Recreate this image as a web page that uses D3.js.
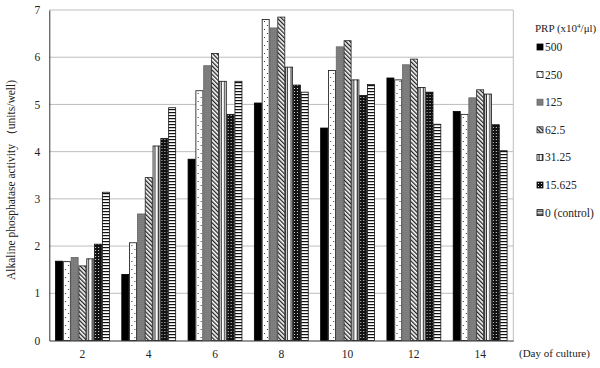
<!DOCTYPE html>
<html><head><meta charset="utf-8">
<script src="https://cdn.jsdelivr.net/npm/d3@7"></script>
<style>body{margin:0;background:#fff}svg{display:block}text{font-family:"Liberation Serif","Times New Roman",serif}</style>
</head><body><div id="chart"></div>
<script>
const days = ["2","4","6","8","10","12","14"];
const seriesNames = ["500","250","125","62.5","31.25","15.625","0 (control)"];
const s500   = [1.68,1.40,3.84,5.03,4.50,5.56,4.85];
const s250   = [1.67,2.07,5.29,6.80,5.72,5.52,4.79];
const s125   = [1.76,2.68,5.82,6.62,6.22,5.84,5.14];
const s62_5  = [1.58,3.45,6.08,6.85,6.35,5.96,5.31];
const s31_25 = [1.73,4.12,5.49,5.79,5.52,5.36,5.22];
const s15_625= [2.04,4.28,4.79,5.41,5.19,5.26,4.57];
const s0     = [3.14,4.93,5.49,5.26,5.42,4.58,4.02];
const yTicks = [0,1,2,3,4,5,6,7];
const seriesValues = [s500,s250,s125,s62_5,s31_25,s15_625,s0];

const W=600,H=368;
const L=49.3,R=513.3,T=10,B=340.5;
const svg=d3.select("#chart").append("svg").attr("width",W).attr("height",H);
const defs=svg.append("defs");

const p250=defs.append("pattern").attr("id","p250").attr("patternUnits","userSpaceOnUse").attr("width",6).attr("height",8);
p250.append("rect").attr("width",6).attr("height",8).attr("fill","#fff");
p250.append("rect").attr("x",1).attr("y",1).attr("width",1).attr("height",1).attr("fill","#333");
p250.append("rect").attr("x",4).attr("y",5).attr("width",1).attr("height",1).attr("fill","#333");

const p125=defs.append("pattern").attr("id","p125").attr("patternUnits","userSpaceOnUse").attr("width",2).attr("height",2);
p125.append("rect").attr("width",2).attr("height",2).attr("fill","#808080");
p125.append("rect").attr("width",1).attr("height",1).attr("fill","#747474");

const p62=defs.append("pattern").attr("id","p62").attr("patternUnits","userSpaceOnUse").attr("width",3).attr("height",3).attr("patternTransform","rotate(-45)");
p62.append("rect").attr("width",3).attr("height",3).attr("fill","#fff");
p62.append("rect").attr("width",1.3).attr("height",3).attr("fill","#222");

const p31=defs.append("pattern").attr("id","p31").attr("patternUnits","userSpaceOnUse").attr("width",3.5).attr("height",4);
p31.append("rect").attr("width",3.5).attr("height",4).attr("fill","#fff");
p31.append("rect").attr("x",1.5).attr("width",1).attr("height",4).attr("fill","#111");

const p15=defs.append("pattern").attr("id","p15").attr("patternUnits","userSpaceOnUse").attr("width",3).attr("height",3);
p15.append("rect").attr("width",3).attr("height",3).attr("fill","#111");
p15.append("rect").attr("x",1).attr("y",1).attr("width",1).attr("height",1).attr("fill","#ddd");

const p0=defs.append("pattern").attr("id","p0").attr("patternUnits","userSpaceOnUse").attr("width",4).attr("height",3);
p0.append("rect").attr("width",4).attr("height",3).attr("fill","#fff");
p0.append("rect").attr("y",1).attr("width",4).attr("height",1.2).attr("fill","#111");

const fills=["#000","url(#p250)","url(#p125)","url(#p62)","url(#p31)","url(#p15)","url(#p0)"];
const strokes=["#000","#111","#666","#222","#111","#111","#111"];

const x=d3.scaleBand().domain(days).range([L,R]).paddingInner(0.175).paddingOuter(0.0875);
const xs=d3.scaleBand().domain(seriesNames).range([0,x.bandwidth()]);
const y=d3.scaleLinear().domain([0,7]).range([B,T]);

svg.append("g").selectAll("line").data(yTicks.filter(d=>d>0)).join("line")
  .attr("x1",L).attr("x2",R).attr("y1",d=>y(d)).attr("y2",d=>y(d))
  .attr("stroke","#bdbdbd").attr("stroke-width",1);
svg.append("line").attr("x1",R).attr("x2",R).attr("y1",T).attr("y2",B).attr("stroke","#bdbdbd");

const groups=svg.append("g").selectAll("g").data(days).join("g").attr("transform",d=>`translate(${x(d)},0)`);
groups.selectAll("rect").data((d,i)=>seriesNames.map((s,j)=>({s,j,v:seriesValues[j][i]}))).join("rect")
  .attr("x",d=>xs(d.s)+0.4).attr("width",xs.bandwidth()-0.8)
  .attr("y",d=>y(d.v)).attr("height",d=>B-y(d.v))
  .attr("fill",d=>fills[d.j]).attr("stroke",d=>strokes[d.j]).attr("stroke-width",0.8);

const yAxis=d3.axisLeft(y).tickValues(yTicks).tickFormat(d3.format("d")).tickSize(0).tickPadding(9);
const gy=svg.append("g").attr("transform",`translate(${L},0)`).call(yAxis);
gy.select(".domain").attr("stroke","#333");
gy.selectAll("text").attr("font-size",11.5).attr("fill","#222").attr("font-family","Liberation Serif, serif");

const xAxis=d3.axisBottom(x).tickSize(0).tickPadding(9);
const gx=svg.append("g").attr("transform",`translate(0,${B})`).call(xAxis);
gx.select(".domain").attr("stroke","#333");
gx.selectAll("text").attr("font-size",11.5).attr("fill","#222").attr("font-family","Liberation Serif, serif");

svg.append("text").attr("x",519).attr("y",357).attr("font-size",11).attr("fill","#222").text("(Day of culture)");

svg.append("text").attr("transform","translate(15,180) rotate(-90)").attr("text-anchor","middle")
  .attr("font-size",11.5).attr("fill","#222").text("Alkaline phosphatase activity （units/well)");

const lt=svg.append("text").attr("x",535).attr("y",32).attr("font-size",11).attr("fill","#222");
lt.append("tspan").text("PRP (x10");
lt.append("tspan").attr("font-size",7).attr("dy",-4).text("4");
lt.append("tspan").attr("dy",4).text("/μl)");

const lg=svg.append("g").selectAll("g").data(seriesNames).join("g")
  .attr("transform",(d,i)=>`translate(537,${47+i*27.6})`);
lg.append("rect").attr("x",0).attr("y",-3).attr("width",6).attr("height",6)
  .attr("fill",(d,i)=>fills[i]).attr("stroke",(d,i)=>strokes[i]).attr("stroke-width",0.8);
lg.append("text").attr("x",8).attr("y",4).attr("font-size",11.5).attr("fill","#222").text(d=>d);
</script></body></html>
